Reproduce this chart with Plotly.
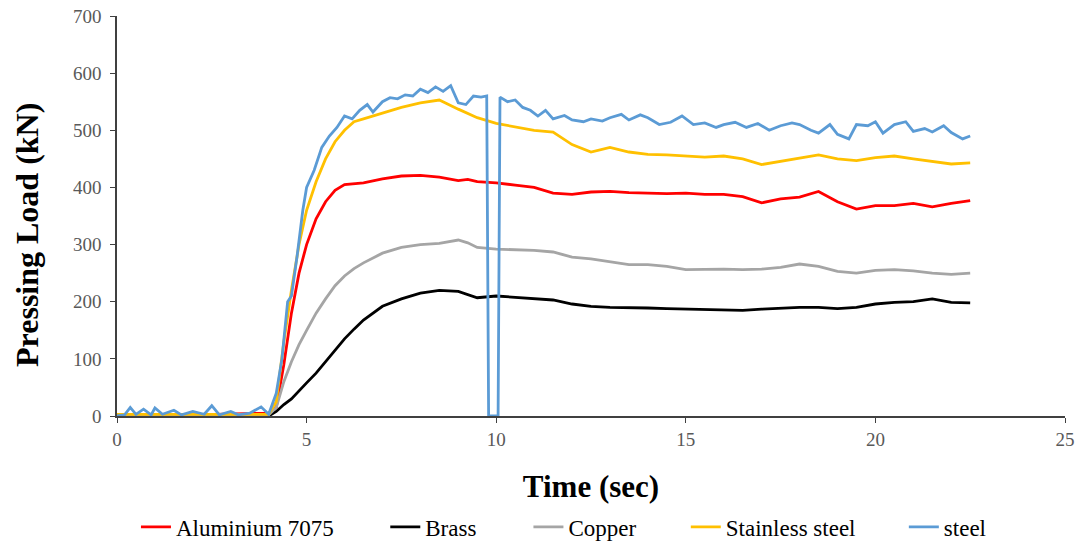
import plotly.graph_objects as go

# Shared time axis for smooth series (sec)
time_s = [0, 1, 2, 3, 4, 4.2, 4.4, 4.6, 4.8, 5.0, 5.25, 5.5, 5.75, 6.0, 6.25, 6.5, 7.0, 7.5, 8.0, 8.5,
          9.0, 9.25, 9.5, 10.0, 10.5, 11.0, 11.5, 12.0, 12.5, 13.0, 13.5, 14.0, 14.5, 15.0, 15.5, 16.0,
          16.5, 17.0, 17.5, 18.0, 18.5, 19.0, 19.5, 20.0, 20.5, 21.0, 21.5, 22.0, 22.5]

aluminium = [2, 3, 2, 3, 5, 15, 90, 180, 250, 300, 345, 375, 395, 405, 407, 408, 415, 420, 421, 418,
             412, 414, 410, 408, 404, 400, 390, 388, 392, 393, 391, 390, 389, 390, 388, 388,
             384, 373, 380, 383, 393, 375, 362, 368, 368, 372, 366, 372, 377]

brass = [0, 0, 0, 0, 0, 8, 20, 30, 45, 58, 75, 95, 115, 135, 152, 168, 192, 205, 215, 220,
         218, 212, 207, 210, 208, 205, 203, 196, 192, 190, 190, 189, 188, 187, 186, 186,
         185, 187, 189, 190, 190, 188, 190, 196, 199, 200, 205, 199, 198]

copper = [2, 2, 2, 2, 2, 15, 60, 95, 125, 150, 180, 205, 228, 245, 258, 268, 285, 295, 300, 302,
          308, 303, 295, 292, 291, 290, 287, 278, 275, 270, 265, 265, 262, 256, 257, 257,
          256, 257, 260, 266, 262, 253, 250, 255, 256, 254, 250, 248, 250]

stainless = [3, 3, 3, 3, 3, 25, 130, 220, 300, 360, 410, 450, 480, 500, 515, 520, 530, 540, 548, 553,
             537, 530, 522, 512, 506, 500, 497, 475, 462, 470, 462, 458, 457, 455, 453, 455,
             450, 440, 446, 452, 457, 450, 447, 452, 455, 450, 445, 441, 443]

# Steel has its own, finer time axis
time_steel = [0, 0.2, 0.35, 0.5, 0.7, 0.9, 1.0, 1.2, 1.5, 1.7, 2.0, 2.3, 2.5, 2.7, 3.0, 3.2, 3.5, 3.8,
              4.0, 4.2, 4.35, 4.5, 4.6, 4.75, 4.9, 5.0, 5.2, 5.4, 5.6, 5.8, 6.0, 6.2, 6.4, 6.6, 6.75,
              7.0, 7.2, 7.4, 7.6, 7.8, 8.0, 8.2, 8.4, 8.6, 8.8, 9.0, 9.2, 9.4, 9.6, 9.75, 9.8, 10.05,
              10.1, 10.3, 10.5, 10.7, 10.9, 11.1, 11.3, 11.5, 11.8, 12.0, 12.3, 12.5, 12.8, 13.0,
              13.3, 13.5, 13.8, 14.0, 14.3, 14.6, 14.9, 15.2, 15.5, 15.8, 16.0, 16.3, 16.6, 16.9,
              17.2, 17.5, 17.8, 18.0, 18.3, 18.5, 18.8, 19.0, 19.3, 19.5, 19.8, 20.0, 20.2, 20.5,
              20.8, 21.0, 21.3, 21.5, 21.8, 22.0, 22.3, 22.5]
steel = [0, 2, 15, 3, 12, 2, 14, 3, 10, 2, 8, 3, 18, 2, 8, 2, 5, 16,
         3, 40, 100, 200, 210, 280, 360, 400, 430, 470, 490, 505, 525, 520, 535, 545, 532,
         550, 557, 555, 562, 560, 572, 566, 576, 568, 578, 548, 545, 560, 558, 560, 0, 0,
         558, 550, 553, 540, 535, 525, 535, 520, 526, 518, 515, 520, 516, 522,
         528, 518, 527, 522, 510, 514, 525, 510, 513, 505, 510, 514, 505, 512,
         500, 508, 513, 510, 500, 495, 510, 493, 485, 510, 508, 515, 495, 510,
         515, 498, 503, 497, 508, 496, 485, 490]

series_names = ["Aluminium 7075", "Brass", "Copper", "Stainless steel", "steel"]
series_colors = ["#FF0000", "#000000", "#A5A5A5", "#FFC000", "#5B9BD5"]
series_x = [time_s, time_s, time_s, time_s, time_steel]
series_y = [aluminium, brass, copper, stainless, steel]

# legend entry positions (paper x), one legend per series to mimic spacing
legend_x = [0.020, 0.283, 0.434, 0.600, 0.830]

serif = "Liberation Serif"
fig = go.Figure()
layout_legends = {}
for i, (name, tx, ty, col) in enumerate(zip(series_names, series_x, series_y, series_colors)):
    lname = "legend" if i == 0 else f"legend{i + 1}"
    fig.add_trace(go.Scatter(x=tx, y=ty, mode="lines", name=name, legend=lname,
                             line=dict(color=col, width=2.8)))
    layout_legends[lname] = dict(orientation="h", x=legend_x[i], xanchor="left",
                                 y=-0.2775, yanchor="middle", bgcolor="rgba(0,0,0,0)",
                                 font=dict(family=serif, size=23, color="#000000"),
                                 itemwidth=30)

fig.update_layout(
    width=1090, height=547,
    margin=dict(l=117, r=25, t=16, b=131, autoexpand=False),
    paper_bgcolor="white", plot_bgcolor="white",
    font=dict(family=serif, color="#404040"),
    showlegend=True,
    **layout_legends,
)
fig.add_annotation(text="<b>Pressing Load (kN)</b>", textangle=-90, xref="paper", yref="paper",
                   x=-0.095, y=0.4525, xanchor="center", yanchor="middle", showarrow=False,
                   font=dict(family=serif, size=32, color="#000000"))
fig.update_xaxes(range=[0, 25], tickvals=[0, 5, 10, 15, 20, 25],
                 showgrid=False, zeroline=False, showline=True, linecolor="#404040", linewidth=1.5,
                 ticks="outside", ticklen=5, tickcolor="#404040",
                 tickfont=dict(family=serif, size=19, color="#595959"),
                 title=dict(text="<b>Time (sec)</b>", font=dict(family=serif, size=31, color="#000000"),
                            standoff=27))
fig.update_yaxes(range=[0, 700], tickvals=[0, 100, 200, 300, 400, 500, 600, 700],
                 showgrid=False, zeroline=False, showline=True, linecolor="#404040", linewidth=1.5,
                 ticks="outside", ticklen=5, tickcolor="#404040", ticklabelstandoff=5,
                 tickfont=dict(family=serif, size=19, color="#595959"))

fig.write_html("out.html")
